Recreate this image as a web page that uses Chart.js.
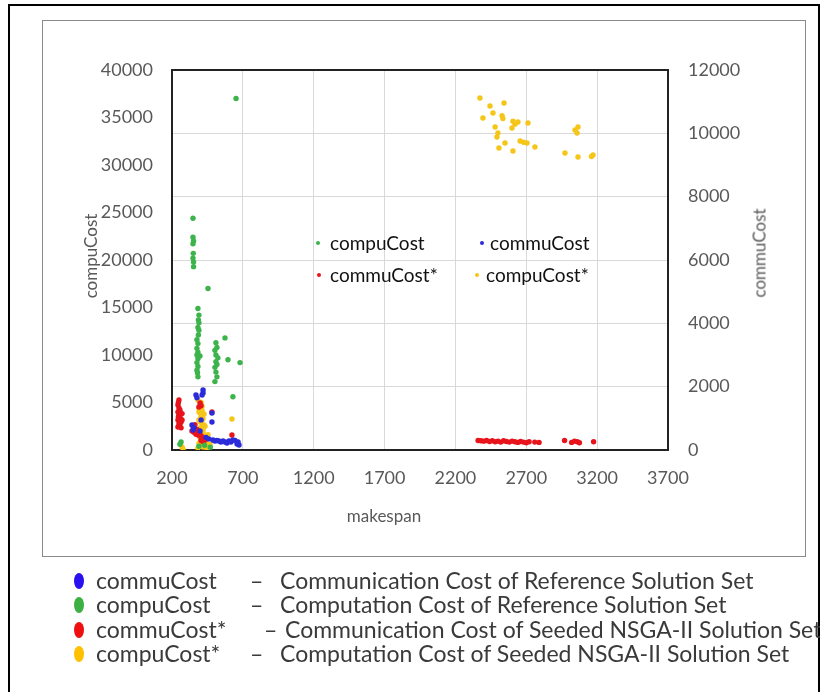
<!DOCTYPE html>
<html>
<head>
<meta charset="utf-8">
<script src="https://cdn.jsdelivr.net/npm/chart.js@4.4.1/dist/chart.umd.min.js"></script>
<style>
  html,body{margin:0;padding:0;background:#fff;}
  body{width:820px;height:692px;position:relative;overflow:hidden;font-family:Lato,"Open Sans",sans-serif;}
  #frame{position:absolute;left:8px;top:4px;width:812px;height:700px;border:2px solid #000;box-sizing:border-box;}
  #box{position:absolute;left:42px;top:20px;width:764px;height:537px;border:1.5px solid #8a8a8a;box-sizing:border-box;}
  canvas{position:absolute;left:0;top:0;}
  .t{position:absolute;white-space:nowrap;color:#595959;font-size:17px;line-height:1;}
  .rot{transform:translate(-50%,-50%) rotate(-90deg);}
  .il{position:absolute;white-space:nowrap;color:#111;font-size:19px;line-height:1;transform:translateY(-50%);}
  .idot{position:absolute;width:4px;height:4px;border-radius:50%;transform:translate(-50%,-50%);}
  .bl{position:absolute;white-space:nowrap;color:#3a3a3a;font-size:23px;line-height:1;transform:translateY(-50%);}
  .ell{position:absolute;width:10px;height:16px;border-radius:50%;transform:translate(-50%,-50%);}
</style>
</head>
<body>
<div id="frame"></div>
<div id="box"></div>
<canvas id="c" width="820" height="692"></canvas>

<div class="t rot" style="left:90px;top:256px;">compuCost</div>
<div class="t rot" style="left:759px;top:253px;">commuCost</div>
<div class="t" style="left:384px;top:515px;transform:translate(-50%,-50%);">makespan</div>

<div class="idot" style="left:318px;top:243px;background:#3cb44b;"></div>
<div class="il" style="left:330px;top:242px;">compuCost</div>
<div class="idot" style="left:482px;top:243px;background:#2b2bd9;"></div>
<div class="il" style="left:490px;top:242px;">commuCost</div>
<div class="idot" style="left:319px;top:275px;background:#e8141c;"></div>
<div class="il" style="left:330px;top:274px;">commuCost*</div>
<div class="idot" style="left:477px;top:275px;background:#f5c518;"></div>
<div class="il" style="left:486px;top:274px;">compuCost*</div>

<div class="ell" style="left:79px;top:581px;background:#2a10ee;"></div>
<div class="bl" style="left:96px;top:580px;">commuCost</div>
<div class="bl" style="left:250px;top:580px;">–</div>
<div class="bl" style="left:280px;top:580px;">Communication Cost of Reference Solution Set</div>

<div class="ell" style="left:79px;top:605px;background:#3cb043;"></div>
<div class="bl" style="left:96px;top:604px;">compuCost</div>
<div class="bl" style="left:250px;top:604px;">–</div>
<div class="bl" style="left:280px;top:604px;">Computation Cost of Reference Solution Set</div>

<div class="ell" style="left:79px;top:630px;background:#ee1010;"></div>
<div class="bl" style="left:96px;top:629px;">commuCost*</div>
<div class="bl" style="left:264px;top:629px;">–</div>
<div class="bl" style="left:285px;top:629px;">Communication Cost of Seeded NSGA-II Solution Set</div>

<div class="ell" style="left:79px;top:654px;background:#ffc000;"></div>
<div class="bl" style="left:96px;top:653px;">compuCost*</div>
<div class="bl" style="left:250px;top:653px;">–</div>
<div class="bl" style="left:280px;top:653px;">Computation Cost of Seeded NSGA-II Solution Set</div>

<script>
// ---- data (makespan, cost) ----
const xTicks = [200, 700, 1200, 1700, 2200, 2700, 3200, 3700];
const compuTicks = [0, 5000, 10000, 15000, 20000, 25000, 30000, 35000, 40000];
const commuTicks = [0, 2000, 4000, 6000, 8000, 10000, 12000];

// compuCost - Reference (left axis)
const compuRefX = [348,348,352,348,350,348,352,352,454,383,390,386,390,383,390,386,376,383,376,383,376,383,376,383,376,383,510,517,503,510,524,510,517,503,510,517,574,595,680,503,652,630,264,256,390,430,470,397,380];
const compuRefY = [24400,22400,22000,21700,20700,20200,19800,19300,17000,14900,14200,13700,13400,12900,12600,12100,11600,11200,10700,10300,10000,9600,9200,8800,8400,7700,11300,10800,10500,10000,9700,9300,9000,8700,8200,7700,11800,9500,9200,7200,37000,5600,840,600,400,500,300,9900,8100];

// commuCost - Reference (right axis)
const commuRefX = [419,419,412,369,376,482,482,341,348,355,489,503,517,531,545,560,574,588,602,616,630,645,659,673,666,440,460,405,398];
const commuRefY = [1895,1800,1737,1737,1650,1168,884,790,632,700,316,284,300,284,253,284,253,221,284,253,316,300,190,158,253,400,350,950,600];

// commuCost* - Seeded NSGA-II (right axis)
const commuSeedX = [249,242,249,256,242,249,256,242,264,249,256,242,264,271,271,245,252,260,245,252,260,398,405,390,341,355,369,383,405,419,433,398,405,412,419,376,362,348,623,482,2360,2380,2400,2420,2440,2460,2480,2500,2520,2540,2560,2580,2600,2620,2640,2660,2680,2700,2720,2760,2790,2970,3020,3040,3060,3075,3175];
const commuSeedY = [1579,1420,1326,1263,1200,1105,1011,947,884,821,790,726,700,1150,950,1500,1250,1000,1050,900,1180,1484,1400,1358,600,560,500,474,400,350,316,500,300,420,260,650,800,750,474,1200,300,290,280,300,270,290,260,280,250,290,270,250,280,260,240,270,250,230,260,250,240,300,240,280,260,230,260];

// compuCost* - Seeded NSGA-II (left axis)
const compuSeedX = [383,398,405,390,412,398,419,405,390,412,426,398,419,405,390,412,426,398,433,440,419,447,383,271,278,623,454,468,405,398,412,390,426,405,419,398,412,433,405,390,419,426,398,433,412,440,405,426,454,390,2373,2444,2543,2465,2394,2529,2535,2606,2620,2641,2712,2599,2500,2493,2550,2507,2606,2656,2680,2705,2761,3044,3065,3058,2973,3065,3171,3160,2480];
const compuSeedY = [5260,4950,4740,4420,4200,3900,3680,3370,3160,2840,2630,2320,2100,1900,1580,1260,1050,840,740,530,320,100,200,320,100,3260,1600,600,5000,4500,4600,4000,3800,3500,3300,3000,2700,2500,2200,2000,1800,1500,1300,1200,900,1000,600,400,300,700,37050,36210,36530,35470,34950,35200,34900,34600,34300,34530,34420,33900,33370,32950,32310,31790,31470,32530,32400,32310,31900,33680,34000,33370,31260,30840,31050,30900,34000];

const pts = (xs, ys) => xs.map((x, i) => ({x: x, y: ys[i]}));

const frameBorder = {
  id: 'frameBorder',
  beforeDatasetsDraw(chart) {
    const a = chart.chartArea, ctx = chart.ctx;
    ctx.save();
    ctx.strokeStyle = '#222';
    ctx.lineWidth = 2;
    ctx.strokeRect(a.left, a.top, a.right - a.left, a.bottom - a.top);
    ctx.restore();
  }
};

const tickFont = {family: 'Lato', size: 18};
const fmt = v => String(v);

new Chart(document.getElementById('c'), {
  type: 'scatter',
  data: {
    datasets: [
      {label: 'compuCost', data: pts(compuRefX, compuRefY), yAxisID: 'y', backgroundColor: '#3cb44b', pointRadius: 2.7, borderWidth: 0},
      {label: 'commuCost', data: pts(commuRefX, commuRefY), yAxisID: 'y1', backgroundColor: '#2b2bd9', pointRadius: 2.7, borderWidth: 0},
      {label: 'commuCost*', data: pts(commuSeedX, commuSeedY), yAxisID: 'y1', backgroundColor: '#e8141c', pointRadius: 2.7, borderWidth: 0},
      {label: 'compuCost*', data: pts(compuSeedX, compuSeedY), yAxisID: 'y', backgroundColor: '#f5c518', pointRadius: 2.7, borderWidth: 0}
    ]
  },
  options: {
    responsive: false,
    animation: false,
    devicePixelRatio: 1,
    layout: {padding: {top: 70, left: 0, right: 0, bottom: 0}},
    plugins: {legend: {display: false}, tooltip: {enabled: false}},
    scales: {
      x: {
        type: 'linear', min: xTicks[0], max: xTicks[xTicks.length - 1],
        afterBuildTicks: s => { s.ticks = xTicks.map(v => ({value: v})); },
        ticks: {color: '#595959', font: tickFont, padding: 17, callback: fmt, maxRotation: 0},
        grid: {color: '#d9d9d9', drawTicks: false},
        border: {color: '#222', width: 2},
        afterFit: s => { s.height = 242; }
      },
      y: {
        position: 'left', min: 0, max: compuTicks[compuTicks.length - 1],
        afterBuildTicks: s => { s.ticks = compuTicks.map(v => ({value: v})); },
        ticks: {color: '#595959', font: tickFont, padding: 19, callback: fmt},
        grid: {display: false, drawTicks: false},
        border: {color: '#222', width: 2},
        afterFit: s => { s.width = 172; }
      },
      y1: {
        position: 'right', min: 0, max: commuTicks[commuTicks.length - 1],
        afterBuildTicks: s => { s.ticks = commuTicks.map(v => ({value: v})); },
        ticks: {color: '#595959', font: tickFont, padding: 20, callback: fmt},
        grid: {color: '#d9d9d9', drawTicks: false},
        border: {color: '#222', width: 2},
        afterFit: s => { s.width = 152; }
      }
    }
  },
  plugins: [frameBorder]
});
</script>
</body>
</html>
